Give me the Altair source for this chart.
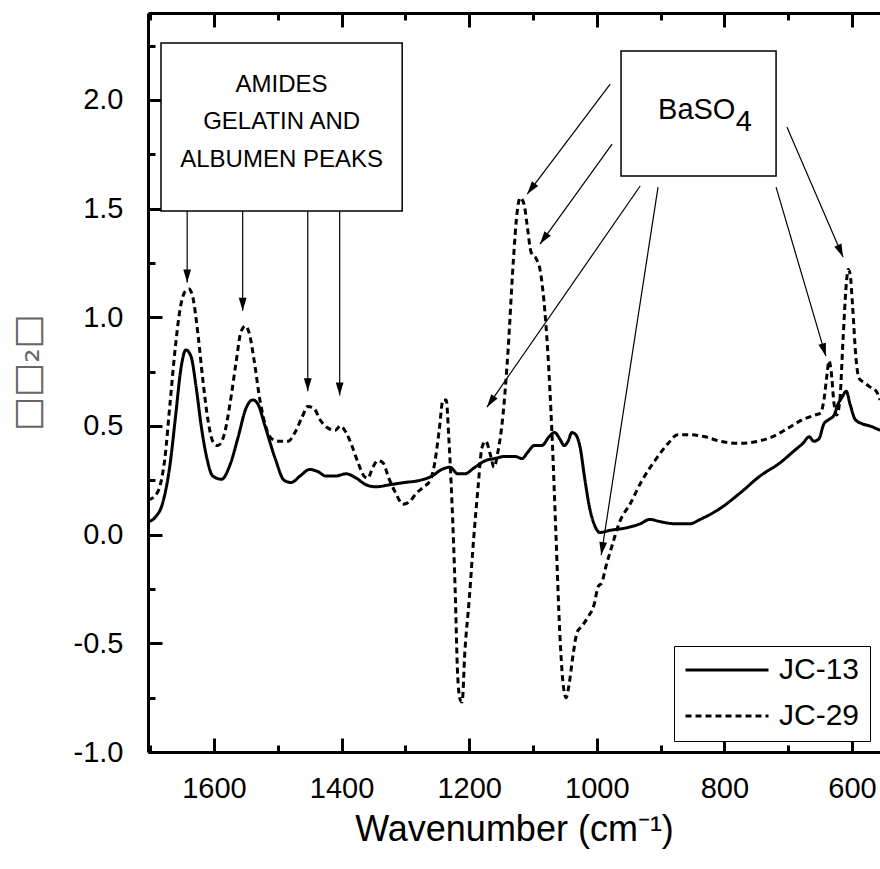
import math
import altair as alt
import pandas as pd

FONT = "Liberation Sans"

# ---------------- data ----------------
wn_jc13 = [1703, 1692, 1680, 1669, 1660, 1652, 1644, 1636, 1628, 1620, 1611, 1602, 1588, 1575,
           1562, 1550, 1539, 1531, 1520, 1504, 1490, 1479, 1465, 1450, 1437, 1425, 1409, 1393,
           1377, 1362, 1346, 1324, 1301, 1277, 1258, 1243, 1230, 1218, 1207, 1191, 1175, 1160,
           1144, 1128, 1117, 1108, 1098, 1086, 1075, 1066, 1058, 1051, 1045, 1039, 1033, 1026,
           1019, 1011, 1003, 995, 979, 956, 932, 917, 901, 877, 854, 838, 807, 776, 744, 713,
           689, 677, 667, 660, 652, 644, 636, 628, 622, 616, 609, 603, 595, 584, 572, 556]
ab_jc13 = [0.06, 0.08, 0.15, 0.32, 0.55, 0.76, 0.85, 0.82, 0.68, 0.50, 0.35, 0.27, 0.255, 0.32,
           0.45, 0.58, 0.62, 0.60, 0.50, 0.35, 0.25, 0.24, 0.27, 0.30, 0.29, 0.27, 0.27, 0.28,
           0.26, 0.23, 0.22, 0.23, 0.24, 0.25, 0.27, 0.30, 0.31, 0.28, 0.28, 0.31, 0.34, 0.35,
           0.36, 0.36, 0.35, 0.38, 0.41, 0.41, 0.45, 0.47, 0.44, 0.41, 0.43, 0.47, 0.46, 0.40,
           0.26, 0.12, 0.04, 0.01, 0.02, 0.03, 0.05, 0.07, 0.06, 0.05, 0.05, 0.07, 0.12, 0.19,
           0.27, 0.33, 0.39, 0.42, 0.45, 0.43, 0.44, 0.51, 0.53, 0.55, 0.60, 0.63, 0.66, 0.60,
           0.53, 0.51, 0.50, 0.48]

wn_jc29 = [1703, 1692, 1685, 1677, 1669, 1661, 1653, 1645, 1639, 1633, 1625, 1617, 1609, 1602,
           1594, 1584, 1575, 1565, 1558, 1551, 1545, 1537, 1528, 1518, 1509, 1497, 1484, 1473,
           1462, 1453, 1443, 1434, 1421, 1410, 1402, 1393, 1384, 1374, 1365, 1359, 1351, 1343,
           1335, 1326, 1315, 1304, 1294, 1283, 1271, 1261, 1254, 1247, 1241, 1236, 1232, 1227,
           1222, 1218, 1214, 1211, 1207, 1200, 1193, 1186, 1180, 1174, 1167, 1161, 1155, 1147,
           1139, 1131, 1125, 1120, 1114, 1109, 1103, 1095, 1089, 1083, 1077, 1070, 1064, 1058,
           1053, 1048, 1044, 1037, 1031, 1023, 1014, 1004, 998, 992, 986, 976, 964, 948, 929,
           909, 888, 873, 854, 830, 807, 776, 747, 725, 700, 677, 658, 649, 644, 639, 636, 633,
           628, 624, 619, 614, 609, 606, 603, 599, 594, 589, 581, 572, 562, 556]
ab_jc29 = [0.16, 0.18, 0.22, 0.35, 0.60, 0.85, 1.04, 1.12, 1.13, 1.09, 0.92, 0.70, 0.52, 0.43,
           0.41, 0.46, 0.60, 0.80, 0.93, 0.96, 0.93, 0.80, 0.62, 0.49, 0.44, 0.43, 0.43, 0.47,
           0.54, 0.59, 0.58, 0.53, 0.49, 0.48, 0.50, 0.47, 0.41, 0.33, 0.27, 0.26, 0.31, 0.34,
           0.33, 0.26, 0.19, 0.14, 0.15, 0.19, 0.22, 0.25, 0.33, 0.48, 0.62, 0.62, 0.45, 0.15,
           -0.25, -0.65, -0.76, -0.77, -0.55, -0.30, -0.02, 0.22, 0.40, 0.43, 0.37, 0.31, 0.38, 0.55,
           0.85, 1.25, 1.48, 1.55, 1.52, 1.42, 1.30, 1.27, 1.22, 1.08, 0.85, 0.45, 0.00, -0.45,
           -0.68, -0.75, -0.70, -0.55, -0.45, -0.42, -0.38, -0.32, -0.24, -0.22, -0.15, -0.05, 0.06, 0.14, 0.25,
           0.34, 0.42, 0.46, 0.46, 0.45, 0.43, 0.42, 0.43, 0.45, 0.49, 0.53, 0.55, 0.56, 0.62, 0.74, 0.80, 0.76,
           0.60, 0.55, 0.62, 0.90, 1.15, 1.22, 1.20, 1.05, 0.82, 0.72, 0.70, 0.68, 0.66, 0.62]

series_names = ["JC-13", "JC-29"]

x_major = [600, 800, 1000, 1200, 1400, 1600]
x_minor = [700, 900, 1100, 1300, 1500, 1700]
y_major = [-1.0, -0.5, 0.0, 0.5, 1.0, 1.5, 2.0]
y_minor = [-0.75, -0.25, 0.25, 0.75, 1.25, 1.75, 2.25]

# annotation boxes (data coordinates)
box_x1 = [1683, 962]
box_x2 = [1305, 719]
box_y1 = [2.262, 2.225]
box_y2 = [1.489, 1.650]

amide_lines = ["AMIDES", "GELATIN AND", "ALBUMEN PEAKS"]
amide_x = [1494, 1494, 1494]
amide_y = [2.036, 1.866, 1.691]

baso_text = ["BaSO", "4"]
baso_x = [904, 782]
baso_y = [1.912, 1.857]

# arrows: start -> tip (data coordinates)
arr_x1 = [1642, 1555, 1453, 1403, 979, 976, 932, 904, 719, 702]
arr_y1 = [1.489, 1.489, 1.489, 1.489, 2.073, 1.797, 1.604, 1.599, 1.599, 1.875]
arr_x2 = [1642, 1555, 1453, 1403, 1109, 1089, 1172, 993, 641, 614]
arr_y2 = [1.16, 1.03, 0.66, 0.64, 1.567, 1.337, 0.587, -0.094, 0.821, 1.277]

# ---------------- layout ----------------
W, H = 732, 739
X_DOM = [556.1, 1703.4]
Y_DOM = [-1.0, 2.4]
xs = alt.Scale(domain=X_DOM, reverse=True, nice=False, zero=False)
ys = alt.Scale(domain=Y_DOM, nice=False, zero=False)

px_per_x = W / (X_DOM[1] - X_DOM[0])
px_per_y = H / (Y_DOM[1] - Y_DOM[0])

rows = []
for w, a in zip(wn_jc13, ab_jc13):
    rows.append({"wn": w, "ab": a, "series": series_names[0]})
for w, a in zip(wn_jc29, ab_jc29):
    rows.append({"wn": w, "ab": a, "series": series_names[1]})
df = pd.DataFrame(rows)
df["idx"] = range(len(df))

arr_rows = []
for x1, y1, x2, y2 in zip(arr_x1, arr_y1, arr_x2, arr_y2):
    dx = -(x2 - x1) * px_per_x
    dy = -(y2 - y1) * px_per_y
    ang = math.degrees(math.atan2(-dx, dy)) % 360
    arr_rows.append({"x1": x1, "y1": y1, "x2": x2, "y2": y2, "ang": ang})
adf = pd.DataFrame(arr_rows)

bdf = pd.DataFrame({"x1": box_x1, "x2": box_x2, "y1": box_y1, "y2": box_y2})
tdf = pd.DataFrame({"t": amide_lines, "x": amide_x, "y": amide_y})
sdf = pd.DataFrame({"t": baso_text, "x": baso_x, "y": baso_y})
dummy = pd.DataFrame({"x": [1000.0], "y": [0.0]})

y_label_expr = "(datum.value < 0 ? '-' : '') + format(abs(datum.value), '.1f')"

# main lines with labelled axes
lines = alt.Chart(df).mark_line(color="black", strokeWidth=3, interpolate="monotone", clip=True).encode(
    x=alt.X("wn:Q", scale=xs, axis=alt.Axis(
        orient="bottom", values=x_major, format="d", labelFont=FONT, labelFontSize=29,
        labelColor="black", labelPadding=22, labelFlush=False, labelOverlap=False,
        ticks=False, tickSize=0, domain=True, domainColor="black", domainWidth=3, grid=False,
        title="Wavenumber (cm⁻¹)", titleFont=FONT, titleFontSize=36, titleFontWeight="normal",
        titleColor="black", titleBaseline="alphabetic", titleY=88)),
    y=alt.Y("ab:Q", scale=ys, axis=alt.Axis(
        orient="left", values=y_major, labelExpr=y_label_expr, labelFont=FONT, labelFontSize=29,
        labelColor="black", labelPadding=25, labelFlush=False, labelOverlap=False,
        ticks=False, tickSize=0, domain=True, domainColor="black", domainWidth=3, grid=False,
        title="□□₂□", titleFont="DejaVu Sans", titleFontSize=36, titleFontWeight="normal",
        titleColor="#666666", titleAngle=270, titleBaseline="alphabetic", titleAlign="center",
        titleX=-110, titleY=359)),
    strokeDash=alt.StrokeDash("series:N", scale=alt.Scale(domain=series_names, range=[[1, 0], [6, 4]]),
                              legend=alt.Legend(
                                  title=None, orient="none", legendX=526, legendY=633,
                                  direction="vertical", symbolType="stroke", symbolSize=6889,
                                  symbolStrokeWidth=3, symbolStrokeColor="black", clipHeight=28,
                                  labelFont=FONT, labelFontSize=30, labelColor="black",
                                  labelOffset=9, rowPadding=16, padding=10,
                                  strokeColor="black", fillColor="white", cornerRadius=0)),
    detail="series:N",
    order="idx:Q",
)


def tick_layer(xv, yv, size, x_orient, x_offset, y_orient=None, y_offset=None, x_domain=False):
    x_axis = alt.Axis(orient=x_orient, offset=x_offset, values=xv, labels=False, ticks=True,
                      tickSize=size, tickWidth=3, tickColor="black", domain=x_domain,
                      domainColor="black", domainWidth=3, grid=False, title=None)
    if y_orient is None:
        y_enc = alt.Y("y:Q", scale=ys, axis=None)
    else:
        y_enc = alt.Y("y:Q", scale=ys, axis=alt.Axis(
            orient=y_orient, offset=y_offset, values=yv, labels=False, ticks=True,
            tickSize=size, tickWidth=3, tickColor="black", domain=False, grid=False, title=None))
    return alt.Chart(dummy).mark_point(opacity=0).encode(
        x=alt.X("x:Q", scale=xs, axis=x_axis), y=y_enc)


ticks_major = tick_layer(x_major, y_major, 14, "top", -H, "right", -W)
ticks_minor = tick_layer(x_minor, y_minor, 7, "top", -H, "right", -W)
top_major = tick_layer(x_major, None, 14, "bottom", -H, x_domain=True)
top_minor = tick_layer(x_minor, None, 7, "bottom", -H)

XN = dict(scale=xs, axis=None)
YN = dict(scale=ys, axis=None)

boxes = alt.Chart(bdf).mark_rect(fill="white", stroke="black", strokeWidth=1.5).encode(
    x=alt.X("x1:Q", **XN), x2="x2:Q", y=alt.Y("y1:Q", **YN), y2="y2:Q")

amide_text = alt.Chart(tdf).mark_text(font=FONT, fontSize=24, color="black", align="center",
                                      baseline="alphabetic").encode(
    x=alt.X("x:Q", **XN), y=alt.Y("y:Q", **YN), text="t:N")

baso = alt.Chart(sdf).mark_text(font=FONT, fontSize=29, color="black", align="left",
                                baseline="alphabetic").encode(
    x=alt.X("x:Q", **XN), y=alt.Y("y:Q", **YN), text="t:N")

arrow_lines = alt.Chart(adf).mark_rule(color="black", strokeWidth=1.2).encode(
    x=alt.X("x1:Q", **XN), x2="x2:Q", y=alt.Y("y1:Q", **YN), y2="y2:Q")

arrow_heads = alt.Chart(adf).mark_point(
    shape="M0,0L-0.3,-1L0.3,-1Z", filled=True, color="black", opacity=1, size=676).encode(
    x=alt.X("x2:Q", **XN), y=alt.Y("y2:Q", **YN), angle=alt.Angle("ang:Q", scale=None))

chart = alt.layer(
    lines, ticks_major, ticks_minor, top_major, top_minor,
    boxes, amide_text, baso, arrow_lines, arrow_heads,
).resolve_axis(x="independent", y="independent").properties(
    width=W, height=H,
    padding={"left": 148, "top": 13, "right": 0, "bottom": 117},
    autosize=alt.AutoSizeParams(type="none"),
    background="white",
).configure_view(stroke=None)

chart.save("out.html", embed_options={"renderer": "svg", "actions": False})
